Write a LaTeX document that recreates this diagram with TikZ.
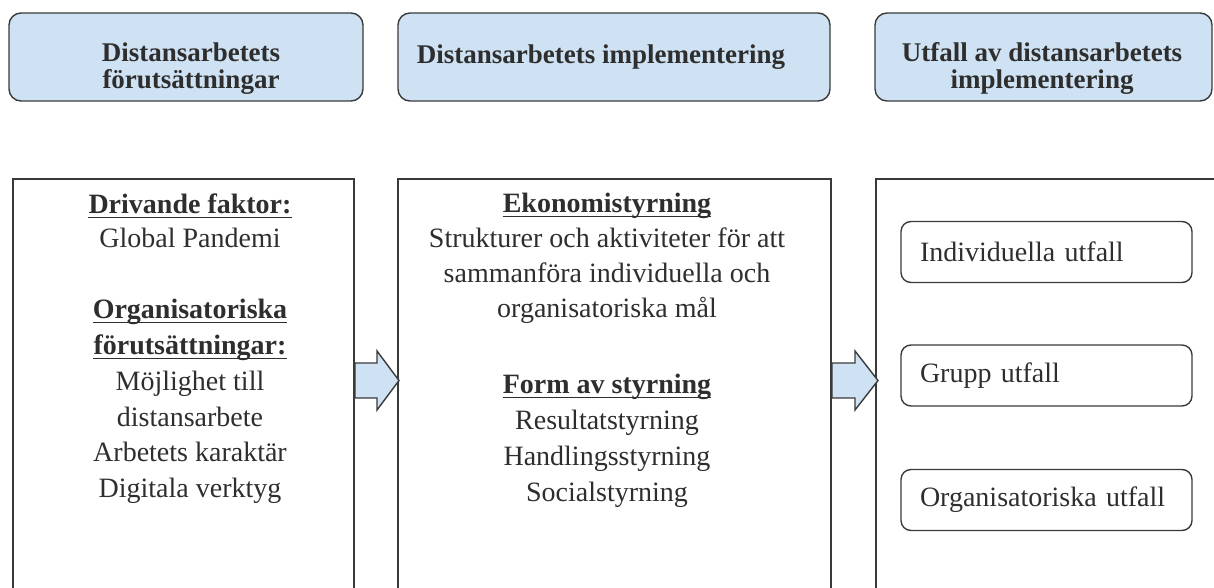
\documentclass[tikz,border=0pt]{standalone}
\usepackage{fontspec}
\setmainfont{Liberation Serif}
\definecolor{hdrfill}{HTML}{CFE2F3}
\definecolor{boxcol}{HTML}{3A3A3A}
\definecolor{txtcol}{HTML}{2E2E2E}
\begin{document}
\begin{tikzpicture}[x=1pt,y=-1pt,
  hdr/.style={draw=boxcol, fill=hdrfill, rounded corners=12pt, line width=1.4pt, inner sep=0pt},
  bigbox/.style={draw=boxcol, line width=1.4pt},
  inbox/.style={draw=boxcol, rounded corners=10pt, line width=1.4pt, minimum width=291pt, minimum height=61pt,
    text width=253pt, inner xsep=19pt, align=left, font=\fontsize{28}{32}\selectfont, text=txtcol},
  blockarrow/.style={draw=boxcol, fill=hdrfill, line width=1.4pt, line join=miter},
  ulline/.style={draw=txtcol, line width=1.6pt},
  htxt/.style={font=\fontsize{27}{32}\selectfont\bfseries, text=txtcol, inner sep=0pt, anchor=base},
  txt/.style={font=\fontsize{28}{35.5}\selectfont, text=txtcol, inner sep=0pt, anchor=base},
  btxt/.style={font=\fontsize{28}{35.5}\selectfont\bfseries, text=txtcol, inner sep=0pt, anchor=base}]
\useasboundingbox (0,0) rectangle (1214,588);
\clip (0,0) rectangle (1214,588);

% header boxes
\node[hdr, minimum width=354pt, minimum height=88pt] (h1) at (186,57) {};
\node[hdr, minimum width=432pt, minimum height=88pt] (h2) at (614,57) {};
\node[hdr, minimum width=337pt, minimum height=88pt] (h3) at (1043.5,57) {};
\node[htxt] (h1a) at (191,62) {Distansarbetets};
\node[htxt] (h1b) at (191,89) {förutsättningar};
\node[htxt] (h2a) at (601,64) {Distansarbetets implementering};
\node[htxt] (h3a) at (1042,62) {Utfall av distansarbetets};
\node[htxt] (h3b) at (1042,89) {implementering};

% big boxes (open at bottom)
\coordinate (b1bl) at (13,600); \coordinate (b1tl) at (13,179);
\coordinate (b1tr) at (354,179); \coordinate (b1br) at (354,600);
\coordinate (b2bl) at (398,600); \coordinate (b2tl) at (398,179);
\coordinate (b2tr) at (831,179); \coordinate (b2br) at (831,600);
\coordinate (b3bl) at (876,600); \coordinate (b3tl) at (876,179);
\coordinate (b3tr) at (1230,179);
\draw[bigbox] (b1bl) -- (b1tl) -- (b1tr) -- (b1br);
\draw[bigbox] (b2bl) -- (b2tl) -- (b2tr) -- (b2br);
\draw[bigbox] (b3bl) -- (b3tl) -- (b3tr);

% block arrows
\draw[blockarrow] (355,363) -- (377,363) -- (377,351) -- (399,380.5) -- (377,410) -- (377,398) -- (355,398) -- cycle;
\draw[blockarrow] (832,363) -- (855,363) -- (855,351) -- (878,380.5) -- (855,410) -- (855,398) -- (832,398) -- cycle;

% left column text
\node[btxt] (l1) at (190,213) {Drivande faktor:};
\node[txt]  (l2) at (190,247) {Global Pandemi};
\node[btxt] (l3) at (190,318) {Organisatoriska};
\node[btxt] (l4) at (190,354) {förutsättningar:};
\node[txt]  (l5) at (190,390) {Möjlighet till};
\node[txt]  (l6) at (190,426) {distansarbete};
\node[txt]  (l7) at (190,461) {Arbetets karaktär};
\node[txt]  (l8) at (190,497) {Digitala verktyg};

% middle column text
\node[btxt] (m1) at (607,212) {Ekonomistyrning};
\node[txt]  (m2) at (607,247) {Strukturer och aktiviteter för att};
\node[txt]  (m3) at (607,282) {sammanföra individuella och};
\node[txt]  (m4) at (607,317) {organisatoriska mål};
\node[btxt] (m5) at (607,393) {Form av styrning};
\node[txt]  (m6) at (607,429) {Resultatstyrning};
\node[txt]  (m7) at (607,465) {Handlingsstyrning};
\node[txt]  (m8) at (607,501) {Socialstyrning};

% underlines
\foreach \n in {l1,l3,l4,m1,m5}
  \draw[ulline] ([yshift=-4.5pt]\n.base west) -- ([yshift=-4.5pt]\n.base east);

% right column boxes
\node[inbox] (r1) at (1046.5,252) {Individuella utfall};
\node[inbox] (r2) at (1046.5,375.5) {Grupp utfall};
\node[inbox] (r3) at (1046.5,500) {Organisatoriska utfall};
\end{tikzpicture}
\end{document}
